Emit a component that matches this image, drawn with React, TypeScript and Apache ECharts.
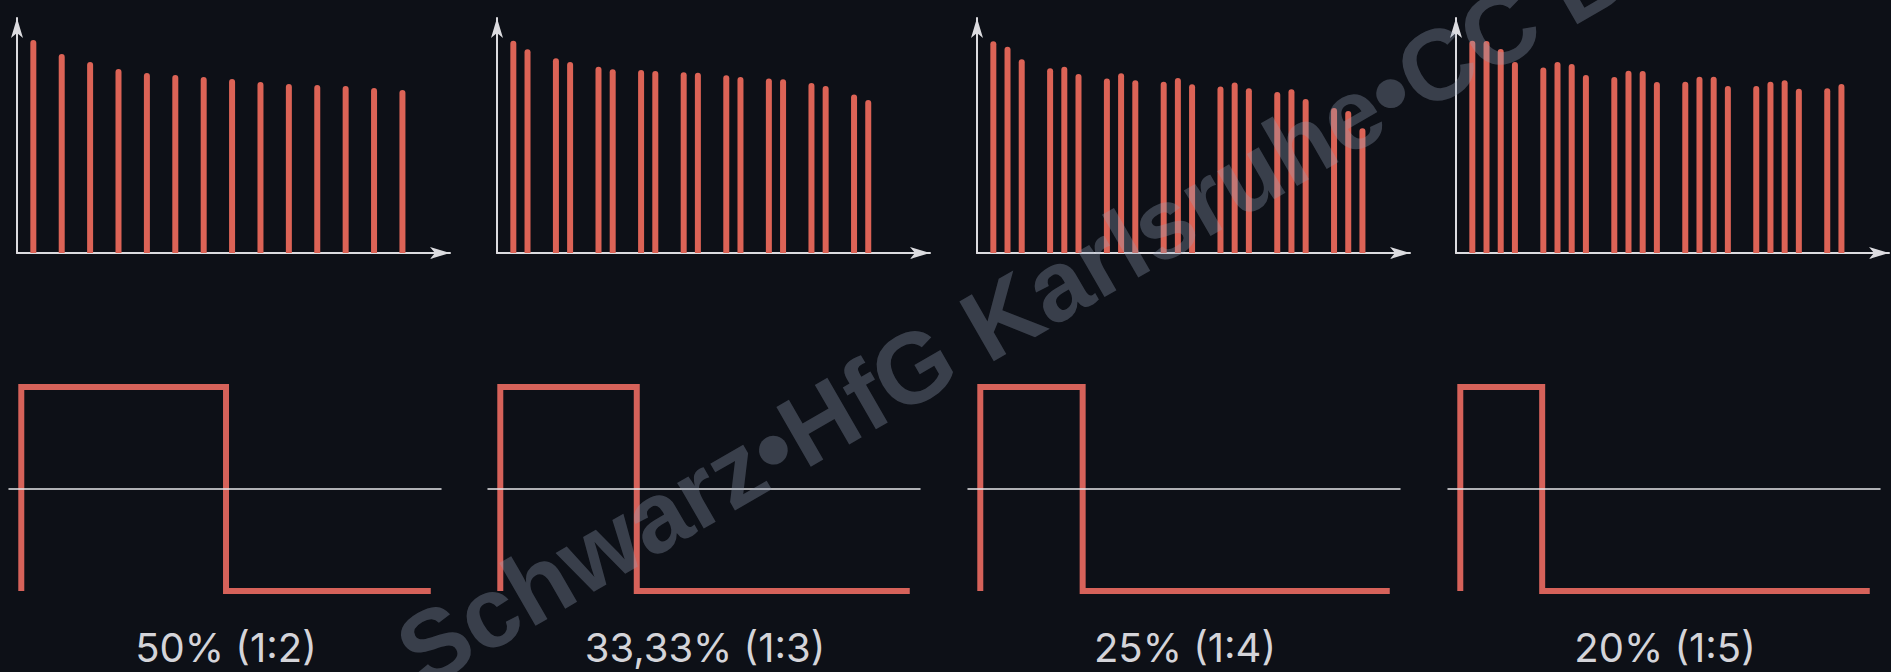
import React, { useEffect, useRef } from "react";
import * as echarts from "echarts";

// ---- data ----
const LABELS = ["50% (1:2)", "33,33% (1:3)", "25% (1:4)", "20% (1:5)"];
const DUTY = [0.5, 0.3333, 0.25, 0.2];

const HARM_50 = [1, 3, 5, 7, 9, 11, 13, 15, 17, 19, 21, 23, 25, 27];
const AMP_50 = [90.6, 84.7, 81.3, 78.3, 76.6, 75.7, 74.9, 74.0, 72.8, 71.9, 71.5, 71.1, 70.2, 69.4];

const HARM_33 = [1, 2, 4, 5, 7, 8, 10, 11, 13, 14, 16, 17, 19, 20, 22, 23, 25, 26];
const AMP_33 = [90.3, 86.7, 82.9, 81.3, 79.3, 78.2, 77.9, 77.4, 76.9, 76.7, 75.6, 74.9, 74.3, 73.9, 72.3, 71.1, 67.5, 65.1];

const HARM_25 = [1, 2, 3, 5, 6, 7, 9, 10, 11, 13, 14, 15, 17, 18, 19, 21, 22, 23, 25, 26, 27];
const AMP_25 = [90.1, 87.8, 82.4, 78.6, 79.3, 76.2, 74.3, 76.5, 73.5, 72.9, 74.5, 71.8, 70.8, 72.6, 70.1, 68.5, 69.7, 65.5, 61.7, 60.4, 53.1];

const HARM_20 = [1, 2, 3, 4, 6, 7, 8, 9, 11, 12, 13, 14, 16, 17, 18, 19, 21, 22, 23, 24, 26, 27];
const AMP_20 = [90.3, 90.2, 86.8, 81.3, 78.9, 81.3, 80.4, 75.7, 74.9, 77.6, 77.4, 72.8, 72.9, 75.0, 75.0, 71.1, 71.1, 72.9, 73.5, 69.9, 70.1, 71.9];

const HARMS = [HARM_50, HARM_33, HARM_25, HARM_20];
const AMPS = [AMP_50, AMP_33, AMP_25, AMP_20];

const WATERMARK = "Schwarz•HfG Karlsruhe•CC BY";

// ---- style / layout ----
const BG = "#0d1017";
const RED = "#dc6356";
const WAVE_RED = "#d6625a";
const AXIS = "#dcdce0";
const SPEC_LEFT = [17, 497, 977, 1456];
const WAVE_LEFT = [21, 500, 980, 1460];

export default function App() {
  const ref = useRef<HTMLDivElement>(null);

  useEffect(() => {
    const chart = echarts.init(ref.current!, null, { renderer: "svg" });

    const grid: any[] = [];
    const xAxis: any[] = [];
    const yAxis: any[] = [];
    const series: any[] = [];
    const graphic: any[] = [];

    for (let i = 0; i < 4; i++) {
      // spectrum
      const gs = grid.length;
      grid.push({ left: SPEC_LEFT[i], top: 18, width: 433, height: 235 });
      xAxis.push({
        type: "value", gridIndex: gs, min: -0.15, max: 30.35,
        axisLine: { show: true, onZero: false, symbol: ["none", "arrow"], symbolSize: [9, 20], lineStyle: { color: AXIS, width: 2 } },
        axisTick: { show: false }, axisLabel: { show: false }, splitLine: { show: false },
      });
      yAxis.push({
        type: "value", gridIndex: gs, min: 0, max: 100,
        axisLine: { show: true, onZero: false, symbol: ["none", "arrow"], symbolSize: [9, 20], lineStyle: { color: AXIS, width: 2 } },
        axisTick: { show: false }, axisLabel: { show: false }, splitLine: { show: false },
      });
      series.push({
        type: "bar", xAxisIndex: gs, yAxisIndex: gs, barWidth: 6,
        itemStyle: { color: RED, borderRadius: [3, 3, 0, 0] },
        data: HARMS[i].map((n, k) => [n, AMPS[i][k]]),
      });

      // waveform
      const gw = grid.length;
      grid.push({ left: WAVE_LEFT[i] - 12, top: 387, width: 432, height: 204 });
      xAxis.push({
        type: "value", gridIndex: gw, min: -0.03, max: 1.025, z: 5,
        axisLine: { show: true, onZero: true, lineStyle: { color: "#e6e6ea", width: 1.5 } },
        axisTick: { show: false }, axisLabel: { show: false }, splitLine: { show: false },
      });
      yAxis.push({
        type: "value", gridIndex: gw, min: -1, max: 1, show: false,
        splitLine: { show: false },
      });
      const d = DUTY[i];
      series.push({
        type: "line", xAxisIndex: gw, yAxisIndex: gw, symbol: "none", clip: false,
        lineStyle: { color: WAVE_RED, width: 6, join: "miter", cap: "butt" },
        data: [[0, -1], [0, 1], [d, 1], [d, -1], [1, -1]],
      });

      graphic.push({
        type: "text", x: WAVE_LEFT[i] + 205, y: 647, z: 10,
        style: { text: LABELS[i], fill: "#d4d4d9", font: "40px Inter", textAlign: "center", textVerticalAlign: "middle" },
      });
    }

    graphic.push({
      type: "text", x: 406, y: 660, rotation: Math.PI / 6, z: 100, silent: true,
      style: { text: WATERMARK, fill: "rgba(150,160,182,0.33)", font: "bold 100px 'Liberation Sans'", textAlign: "left", textVerticalAlign: "middle" },
    });

    chart.setOption({
      animation: false,
      backgroundColor: BG,
      grid, xAxis, yAxis, series, graphic,
    });
    return () => chart.dispose();
  }, []);

  return (
    <div
      ref={ref}
      style={{ position: "fixed", left: 0, top: 0, width: 1891, height: 672, background: BG }}
    />
  );
}
